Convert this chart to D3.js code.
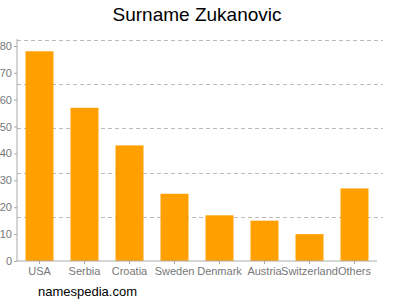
<!DOCTYPE html>
<html>
<head>
<meta charset="utf-8">
<script src="https://cdn.jsdelivr.net/npm/d3@7"></script>
<style>
  body { margin: 0; background: #fff; }
  svg { display: block; font-family: "Liberation Sans", Arial, sans-serif; }
</style>
</head>
<body>
<div id="chart"></div>
<script>
const countries = ['USA', 'Serbia', 'Croatia', 'Sweden', 'Denmark', 'Austria', 'Switzerland', 'Others'];
const counts = [78, 57, 43, 25, 17, 15, 10, 27];
const yTicks = [0, 10, 20, 30, 40, 50, 60, 70, 80];
const yMax = 82.2;

const width = 400, height = 300;
const margin = { top: 40, right: 23, bottom: 39, left: 17 };

const svg = d3.select('#chart')
    .append('svg')
    .attr('width', width)
    .attr('height', height);

const x = d3.scaleBand()
    .domain(countries)
    .range([margin.left, width - margin.right])
    .paddingInner(0.378)
    .paddingOuter(0.189);

const y = d3.scaleLinear()
    .domain([0, yMax])
    .range([height - margin.bottom, margin.top]);

// Dashed gridlines (five equal steps of the domain)
const gridVals = d3.range(1, 6).map(i => yMax * i / 5);
svg.append('g')
    .selectAll('line')
    .data(gridVals)
    .join('line')
    .attr('x1', margin.left)
    .attr('x2', 383)
    .attr('y1', d => Math.round(y(d)) + 0.5)
    .attr('y2', d => Math.round(y(d)) + 0.5)
    .attr('stroke', '#bbb')
    .attr('stroke-dasharray', '4,3');

// Bars
svg.append('g')
    .selectAll('rect')
    .data(countries)
    .join('rect')
    .attr('x', d => x(d))
    .attr('y', (d, i) => y(counts[i]))
    .attr('width', x.bandwidth())
    .attr('height', (d, i) => y(0) - y(counts[i]))
    .attr('fill', '#ffa000');

// Y axis
const yAxis = svg.append('g')
    .attr('transform', `translate(${margin.left},0)`)
    .call(d3.axisLeft(y).tickValues(yTicks).tickSize(3).tickPadding(2));
yAxis.select('.domain').attr('stroke', '#aaa').attr('d', `M-0,${margin.top - 1}V${y(0)}`);
yAxis.selectAll('.tick line').attr('stroke', '#aaa');
yAxis.selectAll('.tick text')
    .attr('fill', '#777')
    .style('font-size', '11px')
    .style('font-family', '"Liberation Sans", Arial, sans-serif');

// X axis
const xAxis = svg.append('g')
    .attr('transform', `translate(0,${y(0)})`)
    .call(d3.axisBottom(x).tickSize(3).tickPadding(3));
xAxis.select('.domain').attr('stroke', '#aaa').attr('d', `M${margin.left},0H${width - margin.right}`);
xAxis.selectAll('.tick line').attr('stroke', '#aaa');
xAxis.selectAll('.tick text')
    .attr('fill', '#777')
    .style('font-size', '11px')
    .style('font-family', '"Liberation Sans", Arial, sans-serif');

// Title
svg.append('text')
    .attr('x', 197)
    .attr('y', 21)
    .attr('text-anchor', 'middle')
    .style('font-size', '19px')
    .attr('fill', '#000')
    .text('Surname Zukanovic');

// Footer
svg.append('text')
    .attr('x', 38)
    .attr('y', 296)
    .style('font-size', '13px')
    .attr('fill', '#000')
    .text('namespedia.com');
</script>
</body>
</html>
